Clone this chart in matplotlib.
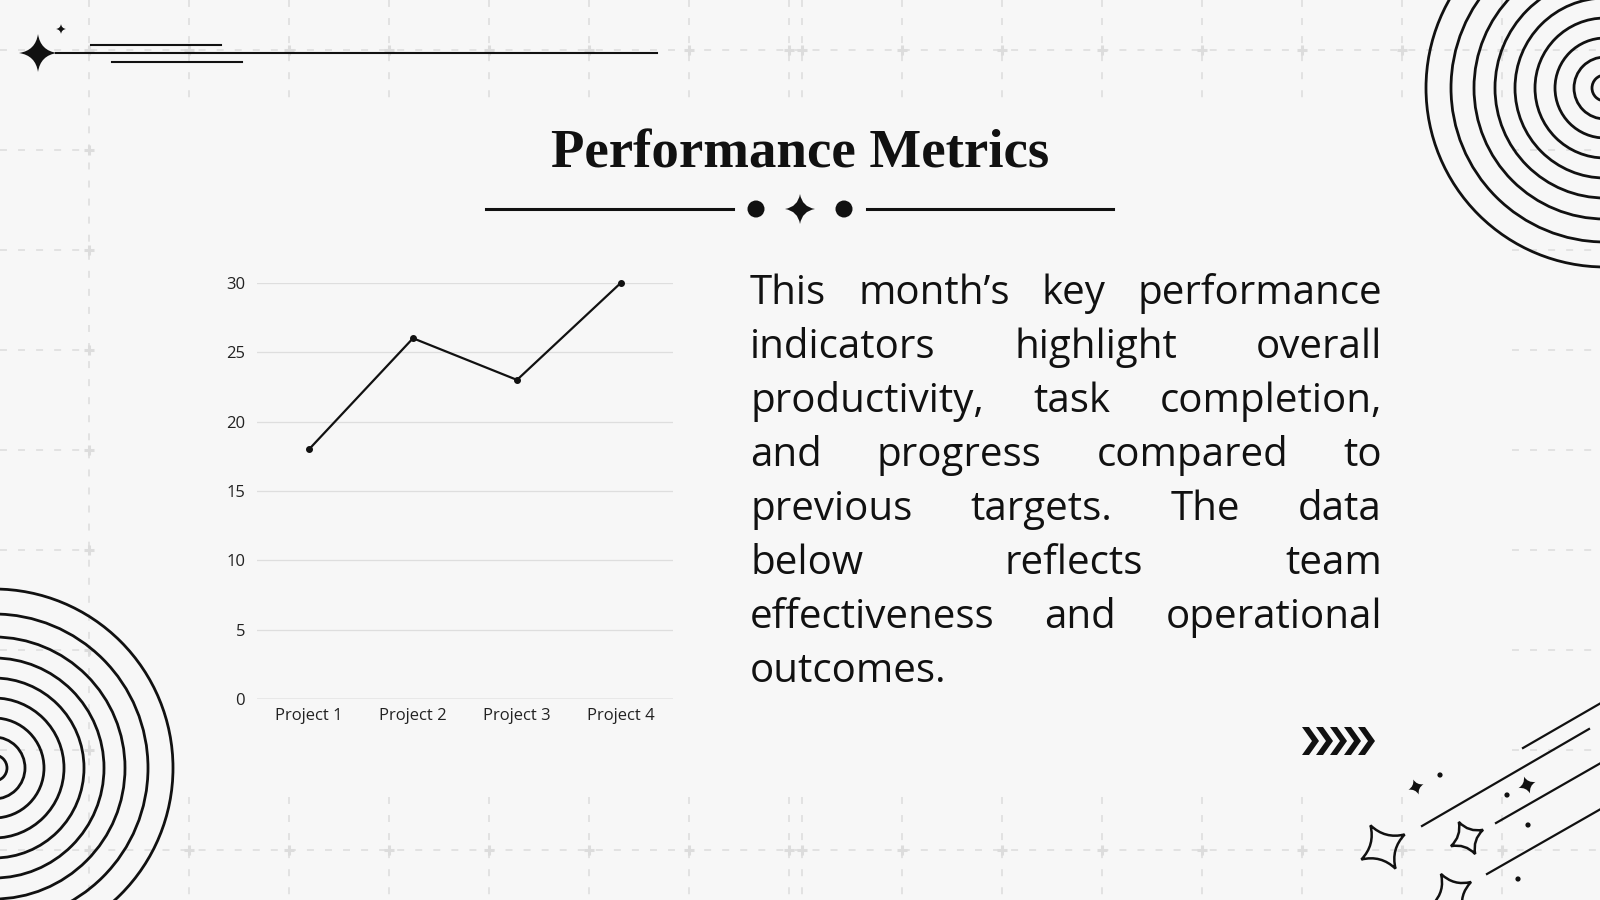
import numpy as np
import matplotlib
matplotlib.use('Agg')
import matplotlib.pyplot as plt
from matplotlib.patches import Circle, PathPatch, Polygon
from matplotlib.path import Path

# данные графика
projects = ['Project 1', 'Project 2', 'Project 3', 'Project 4']
values = [18, 26, 23, 30]
y_ticks = [0, 5, 10, 15, 20, 25, 30]

title = 'Performance Metrics'
paragraph_lines = [
    'This month’s key performance',
    'indicators highlight overall',
    'productivity, task completion,',
    'and progress compared to',
    'previous targets. The data',
    'below reflects team',
    'effectiveness and operational',
    'outcomes.',
]

BG = '#f7f7f7'
GRID = '#dcdcdc'
INK = '#111111'
W, H = 1600, 900
BODY = ['Open Sans', 'DejaVu Sans']

plt.rcParams['lines.scale_dashes'] = False
fig = plt.figure(figsize=(16, 9), dpi=100, facecolor=BG)

# фоновая ось в пикселях (y вниз)
bg = fig.add_axes([0, 0, 1, 1])
bg.set_xlim(0, W)
bg.set_ylim(H, 0)
bg.axis('off')


def sparkle(cx, cy, r, rot=0, pinch=0.2):
    # четырёхлучевая звезда с вогнутыми сторонами
    tips, ctrls = [], []
    for k in range(4):
        a = np.deg2rad(rot - 90 + 90 * k)
        b = a + np.pi / 4
        tips.append((cx + r * np.cos(a), cy + r * np.sin(a)))
        ctrls.append((cx + pinch * r * np.cos(b), cy + pinch * r * np.sin(b)))
    verts = [tips[0]]
    codes = [Path.MOVETO]
    for k in range(4):
        verts += [ctrls[k], tips[(k + 1) % 4]]
        codes += [Path.CURVE3, Path.CURVE3]
    verts.append(tips[0])
    codes.append(Path.CLOSEPOLY)
    return Path(verts, codes)


# пунктирная сетка по краям
dash = dict(color=GRID, lw=1.1, linestyle=(0, (5, 8)), zorder=1)
xs = list(range(89, 790, 100)) + list(range(802, 1503, 100))
for x in xs:
    if x == 89:
        bg.plot([x, x], [0, H], **dash)
    else:
        bg.plot([x, x], [0, 103], **dash)
        bg.plot([x, x], [797, H], **dash)
for y in [50, 850]:
    bg.plot([0, W], [y, y], **dash)
for y in range(150, 800, 100):
    bg.plot([0, 89], [y, y], **dash)
    bg.plot([1512, W], [y, y], **dash)
px = xs + xs + [89] * 7
py = [50] * len(xs) + [850] * len(xs) + list(range(150, 800, 100))
bg.plot(px, py, '+', color=GRID, ms=7, mew=2.2, zorder=1)

# концентрические круги
radii = [13, 31, 50, 70, 90, 110, 131, 154, 179]
for cx, cy in [(-6, 768), (1605, 88)]:
    for r in radii:
        bg.add_patch(Circle((cx, cy), r, fill=False, ec=INK, lw=2.0, zorder=3))

# левый верхний угол
bg.add_patch(PathPatch(sparkle(38, 53, 19, pinch=0.18), fc=INK, ec='none', zorder=3))
bg.add_patch(PathPatch(sparkle(61, 29, 5, pinch=0.18), fc=INK, ec='none', zorder=3))
bg.plot([56, 657], [53, 53], color=INK, lw=1.5, zorder=3)
bg.plot([91, 221], [45, 45], color=INK, lw=1.5, zorder=3)
bg.plot([112, 242], [62, 62], color=INK, lw=1.5, zorder=3)

# заголовок и разделитель
bg.text(800, 168, title, ha='center', va='baseline', fontsize=39.5,
        fontweight='bold', family=['Liberation Serif', 'DejaVu Serif'], color=INK, zorder=4)
bg.plot([486, 733], [209, 209], color=INK, lw=2.2, zorder=3)
bg.plot([867, 1113], [209, 209], color=INK, lw=2.2, zorder=3)
for cx in [756, 844]:
    bg.add_patch(Circle((cx, 209), 8.5, fc=INK, ec='none', zorder=3))
bg.add_patch(PathPatch(sparkle(800, 209, 15, pinch=0.2), fc=INK, ec='none', zorder=3))

# правый нижний угол
for (x0, y0, x1, y1) in [(1523, 748, 1620, 692), (1422, 826, 1589, 729),
                         (1496, 823, 1620, 752), (1487, 874, 1620, 798)]:
    bg.plot([x0, x1], [y0, y1], color=INK, lw=1.6, zorder=3, clip_on=True)
for cx, cy, r, rot in [(1383, 847, 25, -30), (1467, 838, 18, -27), (1452, 893, 22, -30)]:
    bg.add_patch(PathPatch(sparkle(cx, cy, r, rot, pinch=0.32), fc='none', ec=INK,
                           lw=1.8, zorder=3))
for cx, cy, r, rot in [(1416, 787, 8, -20), (1527, 785, 9, -20)]:
    bg.add_patch(PathPatch(sparkle(cx, cy, r, rot, pinch=0.25), fc=INK, ec='none', zorder=3))
for cx, cy in [(1440, 775), (1507, 795), (1528, 825), (1518, 879)]:
    bg.add_patch(Circle((cx, cy), 2.6, fc=INK, ec='none', zorder=3))

# шевроны
for x0 in [1302, 1316, 1330, 1344, 1358]:
    pts = [(x0, 727), (x0 + 7, 727), (x0 + 17, 741), (x0 + 7, 755), (x0, 755), (x0 + 10, 741)]
    bg.add_patch(Polygon(pts, closed=True, fc=INK, ec='none', zorder=3))

# абзац с выравниванием по ширине
fig.canvas.draw()
renderer = fig.canvas.get_renderer()
left, right = 750, 1382
for i, line in enumerate(paragraph_lines):
    y = 304 + 54 * i
    words = line.split()
    texts = [bg.text(0, y, w, ha='left', va='baseline', fontsize=29,
                     family=BODY, color=INK, zorder=4) for w in words]
    widths = [t.get_window_extent(renderer).width for t in texts]
    if i == len(paragraph_lines) - 1 or len(words) == 1:
        gap = 10
    else:
        gap = (right - left - sum(widths)) / (len(words) - 1)
    x = left
    for t, w in zip(texts, widths):
        t.set_x(x)
        x += w + gap

# линейный график
ax = fig.add_axes([257 / W, 1 - 699.3 / H, (673 - 257) / W, (699.3 - 282.7) / H])
ax.set_facecolor('none')
pos = np.arange(len(projects))
ax.plot(pos, values, color=INK, lw=1.6, marker='o', ms=4, clip_on=False, zorder=3)
ax.set_xlim(-0.5, len(projects) - 0.5)
ax.set_ylim(0, 30)
ax.set_yticks(y_ticks)
ax.set_xticks(pos, projects)
ax.grid(axis='y', color='#dedede', lw=0.9)
ax.set_axisbelow(True)
for s in ax.spines.values():
    s.set_visible(False)
ax.axhline(0, color='#bdbdbd', lw=1)
ax.tick_params(axis='y', length=0, labelsize=12, colors='#222222', pad=8.5)
ax.tick_params(axis='x', length=0, labelsize=12, colors='#222222', pad=6.5)
for lbl in ax.get_xticklabels() + ax.get_yticklabels():
    lbl.set_family(BODY)

fig.savefig('out.png', dpi=100, facecolor=BG)
